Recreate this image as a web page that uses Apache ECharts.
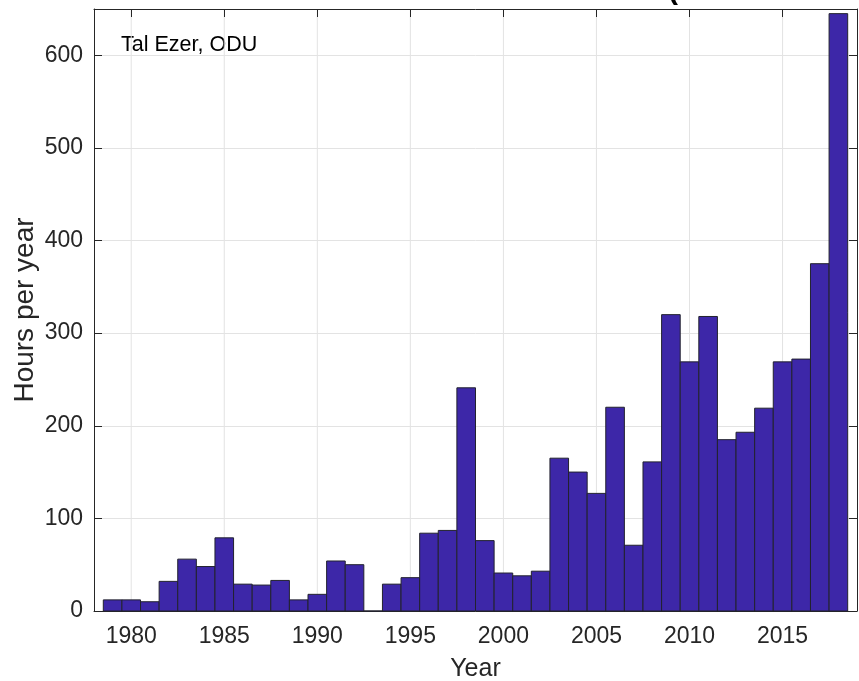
<!DOCTYPE html>
<html>
<head>
<meta charset="utf-8">
<script src="https://cdn.jsdelivr.net/npm/echarts@6/dist/echarts.min.js"></script>
<style>
  html, body { margin: 0; padding: 0; background: #fff; }
  #chart { width: 859px; height: 681px; }
</style>
</head>
<body>
<div id="chart"></div>
<script>
// 数据
var years = [1979, 1980, 1981, 1982, 1983, 1984, 1985, 1986, 1987, 1988,
             1989, 1990, 1991, 1992, 1993, 1994, 1995, 1996, 1997, 1998,
             1999, 2000, 2001, 2002, 2003, 2004, 2005, 2006, 2007, 2008,
             2009, 2010, 2011, 2012, 2013, 2014, 2015, 2016, 2017, 2018];
var hours = [12, 12, 10, 32, 56, 48, 79, 29, 28, 33,
             12, 18, 54, 50, 0, 29, 36, 84, 87, 241,
             76, 41, 38, 43, 165, 150, 127, 220, 71, 161,
             320, 269, 318, 185, 193, 219, 269, 272, 375, 645];
var xTicks = [1980, 1985, 1990, 1995, 2000, 2005, 2010, 2015];

var fontName = "'Liberation Sans', Arial, sans-serif";
var axisColor = '#262626';
var gridColor = '#e3e3e3';

var barData = [];
for (var i = 0; i < years.length; i++) {
    barData.push([years[i], hours[i]]);
}

var dom = document.getElementById("chart");
var myChart = echarts.init(dom);
var option = {
    animation: false,
    backgroundColor: '#ffffff',
    grid: {
        left: 94,
        right: 2,
        top: 9,
        bottom: 70,
        outerBoundsMode: 'none'
    },
    xAxis: [{
        type: 'value',
        z: 2,
        min: 1978,
        max: 2019,
        name: 'Year',
        nameLocation: 'middle',
        nameGap: 46,
        nameTextStyle: { color: axisColor, fontSize: 25, fontFamily: fontName },
        axisLine: { show: true, onZero: false, lineStyle: { color: axisColor, width: 1 } },
        axisTick: {
            show: true, inside: true, length: 8,
            customValues: xTicks,
            lineStyle: { color: axisColor }
        },
        axisLabel: {
            customValues: xTicks,
            margin: 14,
            formatter: function (v) { return String(v); },
            color: axisColor, fontSize: 23, fontFamily: fontName
        },
        splitLine: { show: false }
    }, {
        type: 'value',
        z: 2,
        position: 'top',
        min: 1978,
        max: 2019,
        axisLine: { show: true, onZero: false, lineStyle: { color: axisColor, width: 1 } },
        axisTick: {
            show: true, inside: true, length: 8,
            customValues: xTicks,
            lineStyle: { color: axisColor }
        },
        axisLabel: {
            show: true,
            customValues: xTicks,
            formatter: function () { return ''; }
        },
        splitLine: { show: false }
    }],
    yAxis: [{
        type: 'value',
        z: 2,
        min: 0,
        max: 650,
        interval: 100,
        name: 'Hours per year',
        nameLocation: 'middle',
        nameMoveOverlap: false,
        nameGap: 55,
        nameTextStyle: { color: axisColor, fontSize: 28, fontFamily: fontName },
        axisLine: { show: true, lineStyle: { color: axisColor, width: 1 } },
        axisTick: { show: true, inside: true, length: 8, lineStyle: { color: axisColor } },
        axisLabel: {
            margin: 11, showMaxLabel: false,
            color: axisColor, fontSize: 23, fontFamily: fontName
        },
        splitLine: { show: true, lineStyle: { color: gridColor, width: 1 } }
    }, {
        type: 'value',
        z: 2,
        position: 'right',
        min: 0,
        max: 650,
        interval: 100,
        axisLine: { show: true, lineStyle: { color: axisColor, width: 1 } },
        axisTick: { show: true, inside: true, length: 8, lineStyle: { color: axisColor } },
        axisLabel: { show: false },
        splitLine: { show: false }
    }],
    series: [{
        // 竖向网格线, 画在柱子下面
        type: 'custom',
        z: 1,
        silent: true,
        data: xTicks,
        renderItem: function (params, api) {
            var x = api.value(0);
            var top = api.coord([x, 650]);
            var bottom = api.coord([x, 0]);
            return {
                type: 'line',
                shape: { x1: top[0], y1: top[1], x2: bottom[0], y2: bottom[1] },
                style: { stroke: gridColor, lineWidth: 1 }
            };
        }
    }, {
        type: 'custom',
        z: 3,
        data: barData,
        renderItem: function (params, api) {
            var x = api.value(0);
            var y = api.value(1);
            var p0 = api.coord([x - 0.5, y]);
            var p1 = api.coord([x + 0.5, 0]);
            return {
                type: 'rect',
                shape: { x: p0[0], y: p0[1], width: p1[0] - p0[0], height: p1[1] - p0[1] },
                style: { fill: '#3d27a8', stroke: '#22222e', lineWidth: 1 }
            };
        }
    }],
    graphic: [{
        type: 'text',
        left: 121,
        top: 34,
        style: { text: 'Tal Ezer, ODU', fill: '#000', fontSize: 21.5, fontFamily: fontName }
    }, {
        type: 'text',
        left: 668,
        top: -24,
        style: { text: '(', fill: '#000', fontSize: 30, fontWeight: 'bold', fontFamily: fontName }
    }]
};
if (option && typeof option === "object") {
    myChart.setOption(option, true);
}
</script>
</body>
</html>
